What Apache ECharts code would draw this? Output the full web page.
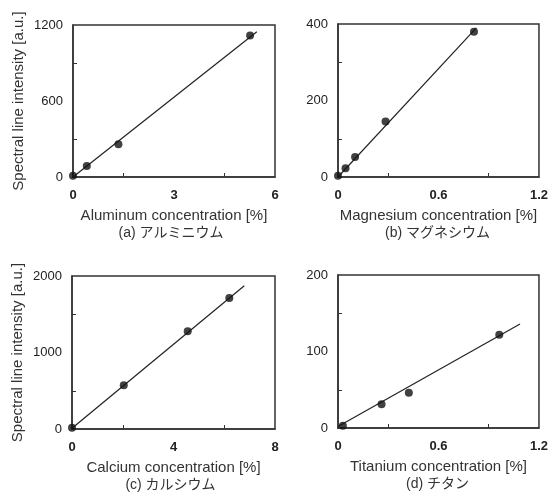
<!DOCTYPE html>
<html>
<head>
<meta charset="utf-8">
<script src="https://cdn.jsdelivr.net/npm/echarts@6/dist/echarts.min.js"></script>
<style>
html,body{margin:0;padding:0;background:#fff;}
#c{width:551px;height:495px;}
</style>
</head>
<body>
<div id="c"></div>
<script>
// ---- data ----
const alX = [0, 0.41, 1.35, 5.26];
const alY = [10, 87, 258, 1117];
const alFitX = [0, 5.46];
const alFitY = [0, 1146];

const mgX = [0, 0.045, 0.102, 0.284, 0.812];
const mgY = [3, 23, 52, 145, 380];
const mgFitX = [0, 0.826];
const mgFitY = [0, 390];

const caX = [0, 2.04, 4.56, 6.2];
const caY = [17, 573, 1278, 1714];
const caFitX = [0, 6.79];
const caFitY = [10, 1872];

const tiX = [0.029, 0.26, 0.423, 0.963];
const tiY = [3, 31, 46, 122];
const tiFitX = [0, 1.087];
const tiFitY = [2, 136];

const xNames = ['Aluminum concentration [%]', 'Magnesium concentration [%]', 'Calcium concentration [%]', 'Titanium concentration [%]'];
const captions = ['(a) アルミニウム', '(b) マグネシウム', '(c) カルシウム', '(d) チタン'];
const yName = 'Spectral line intensity [a.u.]';
const xMax = [6, 1.2, 8, 1.2];
const xStep = [3, 0.6, 4, 0.6];
const yMax = [1200, 400, 2000, 200];
const yStep = [600, 200, 1000, 100];

// ---- layout ----
const grids = [
  {left: 73, top: 25, width: 202, height: 152},
  {left: 338, top: 24, width: 205, height: 153},
  {left: 72, top: 276, width: 203, height: 153},
  {left: 338, top: 275, width: 205, height: 153}
];
const FONT = 'Liberation Sans, Arial, Helvetica, sans-serif';
const pts = [[alX, alY], [mgX, mgY], [caX, caY], [tiX, tiY]];
const fits = [[alFitX, alFitY], [mgFitX, mgFitY], [caFitX, caFitY], [tiFitX, tiFitY]];
const zip = (a, b) => a.map((v, i) => [v, b[i]]);

const xAxes = [], yAxes = [], series = [], graphics = [];
for (let i = 0; i < 4; i++) {
  const dec = xStep[i] < 1 ? 1 : 0;
  xAxes.push({
    type: 'value', gridIndex: i, min: 0, max: xMax[i], interval: xStep[i],
    name: xNames[i], nameLocation: 'middle', nameGap: 31,
    nameTextStyle: {fontFamily: FONT, fontSize: 15, color: '#333'},
    axisLine: {show: true, onZero: false, lineStyle: {color: '#333', width: 1.5}},
    axisTick: {show: false, inside: true},
    minorTick: {show: true, splitNumber: 2, length: 4, lineStyle: {color: '#333', width: 1}},
    splitLine: {show: false}, minorSplitLine: {show: false},
    axisLabel: {fontFamily: FONT, fontSize: 13, fontWeight: 'bold', color: '#222', margin: 12,
      formatter: v => (v === 0 ? '0' : (dec ? v.toFixed(1) : String(v))), showMinLabel: true, showMaxLabel: true}
  });
  yAxes.push({
    type: 'value', gridIndex: i, min: 0, max: yMax[i], interval: yStep[i],
    name: (i % 2 === 0) ? yName : '', nameLocation: 'middle', nameGap: 47,
    nameTextStyle: {fontFamily: FONT, fontSize: 15, color: '#333'},
    axisLine: {show: true, onZero: false, lineStyle: {color: '#333', width: 1.5}},
    axisTick: {show: false, inside: true},
    minorTick: {show: true, splitNumber: 2, length: 4, lineStyle: {color: '#333', width: 1}},
    splitLine: {show: false}, minorSplitLine: {show: false},
    axisLabel: {fontFamily: FONT, fontSize: 13, color: '#222', margin: 10, formatter: v => String(v)}
  });
  series.push({
    type: 'line', xAxisIndex: i, yAxisIndex: i, data: zip(fits[i][0], fits[i][1]),
    showSymbol: false, symbol: 'none', silent: true,
    lineStyle: {color: '#222', width: 1.2}, z: 2
  });
  series.push({
    type: 'scatter', xAxisIndex: i, yAxisIndex: i, data: zip(pts[i][0], pts[i][1]),
    symbol: 'circle', symbolSize: 8, itemStyle: {color: '#111'}, z: 3
  });
  const g = grids[i];
  graphics.push({
    type: 'text', x: g.left + g.width / 2 - 3, y: g.top + g.height + 56,
    style: {text: captions[i], align: 'center', verticalAlign: 'middle',
      font: '14px "Liberation Sans", "Noto Sans CJK JP", sans-serif', fill: '#333'}
  });
}

const chart = echarts.init(document.getElementById('c'), null, {renderer: 'canvas'});
chart.setOption({
  backgroundColor: '#fff',
  animation: false,
  grid: grids.map(g => Object.assign({show: true, borderColor: '#333', borderWidth: 1.5, backgroundColor: 'transparent', containLabel: false}, g)),
  xAxis: xAxes,
  yAxis: yAxes,
  series: series,
  graphic: graphics
});
</script>
</body>
</html>
